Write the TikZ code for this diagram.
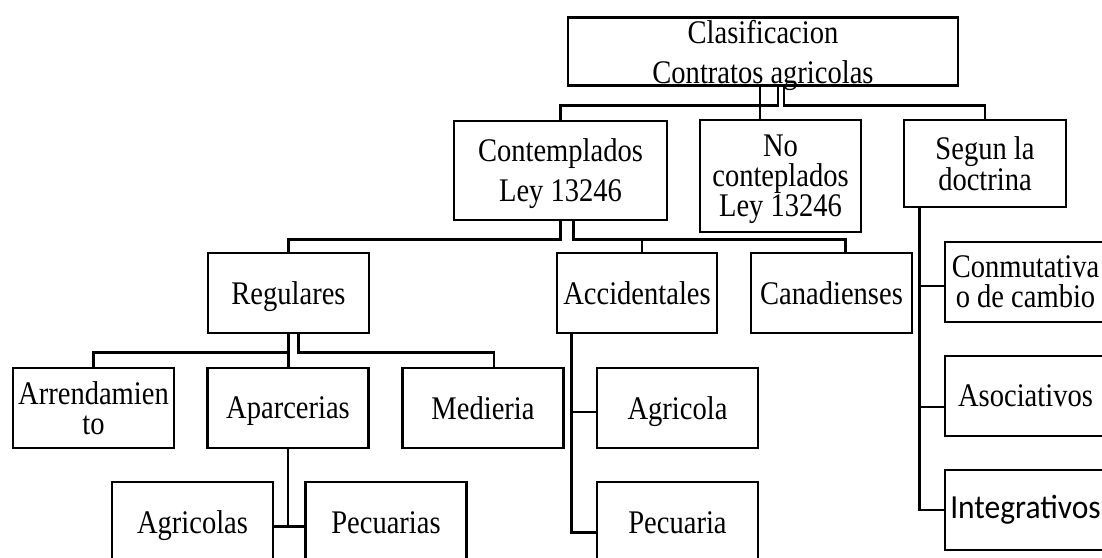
\documentclass[tikz,border=0pt]{standalone}
\usepackage{fontspec}
\setmainfont{Liberation Serif}[FakeStretch = 0.865]
\newfontfamily\carlito{Carlito}[FakeStretch = 0.935]
\newcommand{\chartfont}[1]{\fontsize{33}{#1}\selectfont}

\begin{document}
\begin{tikzpicture}[
    x = 1pt, y = -1pt,
    line width = 2.7pt,
    chartbox/.style = {rectangle,
      draw,
      inner sep = 0pt,
      align = center,
      text depth = 0pt,
      minimum width = 161pt,
      minimum height = 80pt,
      font = \chartfont{30}}
    ]
    \clip (0, 0) rectangle (1102, 557);

    \node at (763, 51.5) [chartbox, minimum width = 390pt, minimum height = 68pt,
      font = \chartfont{40}, name = clas] {Clasificacion\\Contratos agricolas};

    \node at (560.5, 170.5) [chartbox, minimum width = 213pt, minimum height = 99pt,
      font = \chartfont{40}, name = contemp] {Contemplados\\Ley 13246};
    \node at (780.5, 176) [chartbox, minimum height = 112pt, name = nocontemp]
    {No\\conteplados\\Ley 13246};
    \node at (985, 163.5) [chartbox, minimum width = 162pt, minimum height = 87pt,
      name = doctrina] {Segun la\\doctrina};

    \node at (288.5, 293) [chartbox, name = regular] {Regulares};
    \node at (637, 293) [chartbox, minimum width = 160pt, name = accident] {Accidentales};
    \node at (831.5, 293) [chartbox, name = canad] {Canadienses};

    \node at (93.5, 408) [chartbox, name = arrend] {Arrendamien\\to};
    \node at (288, 408) [chartbox, name = aparc] {Aparcerias};
    \node at (483, 408) [chartbox, name = medie] {Medieria};
    \node at (677.5, 408) [chartbox, name = agricA] {Agricola};

    \node at (192.5, 522.5) [chartbox, minimum height = 81pt, name = agric] {Agricolas};
    \node at (386, 522.5) [chartbox, minimum height = 81pt, name = pecu] {Pecuarias};
    \node at (677.5, 522.5) [chartbox, minimum height = 81pt, name = pecuA] {Pecuaria};

    \node at (1025.5, 282) [chartbox, name = conmut] {Conmutativa\\o de cambio};
    \node at (1025.5, 396) [chartbox, name = asoc] {Asociativos};
    \node at (1025.5, 510) [chartbox, font = \carlito\fontsize{33.7}{34}\selectfont,
      text depth = 6pt, name = integ] {Integrativos};

    % first level
    \draw ([xshift = 15pt]clas.south) -- ++(0, 18.5) -| (contemp.north);
    \draw ([xshift = -3pt]clas.south) -- ([xshift = -3pt]clas.south |- nocontemp.north);
    \draw ([xshift = 21pt]clas.south) -- ++(0, 18.5) -| (doctrina.north);

    % contemplados
    \draw (contemp.south) -- ++(0, 18) -| (regular.north);
    \draw ([xshift = 13pt]contemp.south) -- ++(0, 18) -| ([xshift = 5pt]accident.north);
    \draw ([xshift = 13pt]contemp.south) -- ++(0, 18) -| ([xshift = 14pt]canad.north);

    \draw (regular.south) -- ++(0, 18) -| (arrend.north);
    \draw (regular.south) -- (regular.south |- aparc.north);
    \draw ([xshift = 10pt]regular.south) -- ++(0, 18) -| ([xshift = 11pt]medie.north);

    \draw (aparc.south) |- ([yshift = -4pt]agric.east);
    \draw (aparc.south) |- ([yshift = -4pt]pecu.west);

    \draw ([xshift = 16pt]accident.south west) |- ([yshift = -4pt]agricA.west);
    \draw ([xshift = 16pt]accident.south west) |- ([yshift = -10pt]pecuA.west);

    % doctrina
    \draw ([xshift = 17pt]doctrina.south west) |- ([yshift = -4pt]conmut.west);
    \draw ([xshift = 17pt]doctrina.south west) |- ([yshift = -11pt]asoc.west);
    \draw ([xshift = 17pt]doctrina.south west) |- (integ.west);

  \end{tikzpicture}
\end{document}
